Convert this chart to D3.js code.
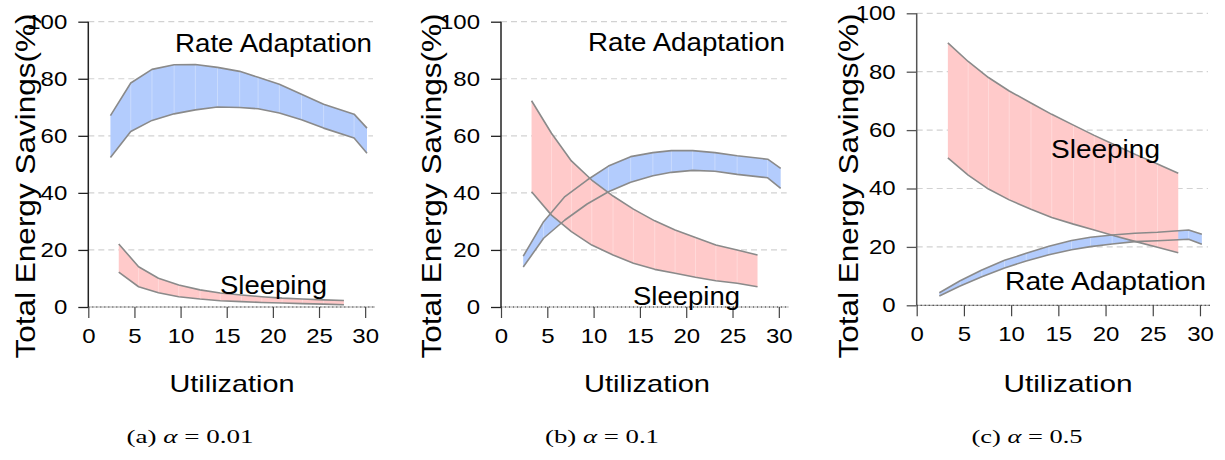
<!DOCTYPE html>
<html>
<head>
<meta charset="utf-8">
<script src="https://cdn.jsdelivr.net/npm/d3@7"></script>
<style>
  html, body { margin: 0; padding: 0; background: #fff; }
  svg { display: block; }
  text { font-family: "Liberation Sans", Arial, sans-serif; fill: #000; }
  .cap { font-family: "Liberation Serif", "Times New Roman", serif; }
</style>
</head>
<body>
<svg id="chart" width="1225" height="460"></svg>
<script>
// ---------------- data ----------------
const rateX  = [2.4, 4.6, 6.9, 9.3, 11.6, 14.0, 16.4, 18.4, 20.7, 23.1, 25.5, 28.8, 30.2];
const sleepX = [3.3, 5.45, 7.6, 9.8, 12.1, 14.3, 16.6, 18.8, 21.0, 23.2, 25.5, 27.7];

// (a) alpha = 0.01
const rateUpperA  = [67.1, 78.5, 83.3, 84.9, 85.0, 84.0, 82.6, 80.5, 78.1, 74.6, 71.1, 67.6, 62.7];
const rateLowerA  = [52.4, 61.5, 65.4, 67.7, 69.1, 70.1, 69.9, 69.5, 68.0, 65.6, 62.7, 59.2, 53.9];
const sleepUpperA = [22.1, 14.1, 10.1, 7.7, 6.0, 4.9, 4.2, 3.6, 3.1, 2.8, 2.5, 2.3];
const sleepLowerA = [12.2, 7.1, 5.0, 3.6, 2.8, 2.2, 1.9, 1.6, 1.4, 1.2, 1.0, 0.8];

// (b) alpha = 0.1
const rateUpperB  = [17.8, 29.9, 38.7, 44.5, 49.4, 52.7, 54.1, 54.8, 54.8, 54.1, 53.0, 51.8, 48.6];
const rateLowerB  = [14.0, 24.1, 30.5, 36.1, 40.4, 43.7, 46.0, 47.2, 47.9, 47.6, 46.5, 45.3, 41.6];
const sleepUpperB = [72.3, 60.9, 51.2, 44.5, 38.9, 34.3, 30.2, 27.0, 24.4, 21.7, 20.0, 18.2];
const sleepLowerB = [40.4, 32.2, 26.4, 21.7, 18.2, 15.3, 13.2, 11.8, 10.4, 9.2, 8.3, 7.1];

// (c) alpha = 0.5
const rateUpperC  = [4.3, 8.4, 12.1, 15.4, 17.8, 20.2, 22.2, 23.3, 24.1, 24.7, 25.0, 25.8, 24.3];
const rateLowerC  = [3.2, 6.6, 9.8, 12.8, 15.2, 17.3, 19.0, 20.1, 21.0, 21.8, 22.1, 22.6, 20.9];
const sleepUpperC = [89.9, 83.5, 78.0, 73.4, 69.3, 65.4, 61.7, 58.2, 54.9, 51.6, 48.4, 45.2];
const sleepLowerC = [50.5, 44.6, 39.8, 36.1, 32.9, 30.1, 27.8, 25.8, 23.7, 21.8, 19.9, 18.0];

const xTicks = [0, 5, 10, 15, 20, 25, 30];
const yTicks = [0, 20, 40, 60, 80, 100];
const xDomain = [0, 30.85];
const yDomain = [0, 100];

const yTitle = "Total Energy Savings(%)";
const xTitle = "Utilization";
const rateLabel = "Rate Adaptation";
const sleepLabel = "Sleeping";
const captionTags = ["(a)", "(b)", "(c)"];
const alphaValues = ["0.01", "0.1", "0.5"];

// ---------------- layout ----------------
const panels = [
  { x0: 88.3, x1: 373, yT: 21.7, yB: 307, axisColor: "#222",
    rate: [rateUpperA, rateLowerA], sleep: [sleepUpperA, sleepLowerA],
    titleX: 35, titleY: 186, xTitleX: 232, xTitleW: 125, capX: 190, capW: 127,
    rateLab: { x: 175, y: 52, w: 197 }, sleepLab: { x: 220, y: 294, w: 107 } },
  { x0: 501, x1: 786.7, yT: 21.7, yB: 307, axisColor: "#222",
    rate: [rateUpperB, rateLowerB], sleep: [sleepUpperB, sleepLowerB],
    titleX: 441, titleY: 186, xTitleX: 647, xTitleW: 126, capX: 602, capW: 114,
    rateLab: { x: 588, y: 51, w: 197 }, sleepLab: { x: 633, y: 305, w: 107 } },
  { x0: 916.7, x1: 1208, yT: 13.3, yB: 305.3, axisColor: "#555",
    rate: [rateUpperC, rateLowerC], sleep: [sleepUpperC, sleepLowerC],
    titleX: 858, titleY: 186, xTitleX: 1068, xTitleW: 129, capX: 1027, capW: 111,
    rateLab: { x: 1005, y: 290, w: 201 }, sleepLab: { x: 1051, y: 158, w: 109 } }
];

const BLUE = "#b3ccfd";
const RED = "#ffcaca";
const EDGE = "#8a8a8a";
const HSTRETCH = 1.2;

const svg = d3.select("#chart");

panels.forEach((p, i) => {
  const x = d3.scaleLinear().domain(xDomain).range([p.x0, p.x1]);
  const y = d3.scaleLinear().domain(yDomain).range([p.yB, p.yT]);
  const g = svg.append("g");

  // grid lines
  g.selectAll(".grid").data(yTicks.filter(d => d > 0)).enter().append("line")
    .attr("x1", p.x0).attr("x2", p.x1)
    .attr("y1", d => y(d)).attr("y2", d => y(d))
    .attr("stroke", "#d2d2d2").attr("stroke-width", 1.2)
    .attr("stroke-dasharray", "6,4");

  // bands
  const band = (xs, up, lo) => xs.map((xv, k) => ({ x: xv, u: up[k], l: lo[k] }));
  const rateData = band(rateX, p.rate[0], p.rate[1]);
  const sleepData = band(sleepX, p.sleep[0], p.sleep[1]);
  const area = d3.area().x(d => x(d.x)).y0(d => y(d.l)).y1(d => y(d.u));
  const lineU = d3.line().x(d => x(d.x)).y(d => y(d.u));
  const lineL = d3.line().x(d => x(d.x)).y(d => y(d.l));

  [[rateData, BLUE], [sleepData, RED]].forEach(([data, col]) => {
    g.append("path").datum(data).attr("d", area).attr("fill", col).attr("stroke", "none");
    g.selectAll(null).data(data.slice(1, -1)).enter().append("line")
      .attr("x1", d => x(d.x)).attr("x2", d => x(d.x))
      .attr("y1", d => y(d.u)).attr("y2", d => y(d.l))
      .attr("stroke", "#ffffff").attr("stroke-opacity", 0.3).attr("stroke-width", 1);
  });
  [rateData, sleepData].forEach(data => {
    [lineU, lineL].forEach(ln => {
      g.append("path").datum(data).attr("d", ln)
        .attr("fill", "none").attr("stroke", EDGE).attr("stroke-width", 1.6)
        .attr("stroke-linejoin", "round");
    });
  });

  // x axis baseline (dotted)
  g.append("line").attr("x1", p.x0).attr("x2", p.x1 + 2)
    .attr("y1", y(0)).attr("y2", y(0))
    .attr("stroke", "#aaa").attr("stroke-width", 1.2);
  g.append("line").attr("x1", p.x0).attr("x2", p.x1 + 2)
    .attr("y1", y(0)).attr("y2", y(0))
    .attr("stroke", "#333").attr("stroke-width", 1.2).attr("stroke-dasharray", "1,3");

  // x ticks
  const xAxis = d3.axisBottom(x).tickValues(xTicks).tickSize(11).tickPadding(11).tickFormat(d3.format("d"));
  const xa = g.append("g").attr("transform", `translate(0,${y(0)})`).call(xAxis);
  xa.select(".domain").remove();
  xa.selectAll(".tick line").attr("stroke", "#444").attr("stroke-width", 1.2);
  xa.selectAll(".tick text").attr("font-size", 20).attr("font-family", "Liberation Sans, Arial, sans-serif")
    .attr("fill", "#000").attr("transform", `scale(${HSTRETCH},1)`);

  // y axis
  const yAxis = d3.axisLeft(y).tickValues(yTicks).tickSize(10).tickPadding(7.5).tickFormat(d3.format("d"));
  const ya = g.append("g").attr("transform", `translate(${p.x0},0)`).call(yAxis);
  ya.select(".domain").attr("stroke", p.axisColor).attr("stroke-width", 1.5).attr("d", `M0,${y(0)}V${y(100)}`);
  ya.selectAll(".tick line").attr("stroke", p.axisColor).attr("stroke-width", 1.3);
  ya.selectAll(".tick text").attr("font-size", 20).attr("font-family", "Liberation Sans, Arial, sans-serif")
    .attr("fill", "#000").attr("transform", `scale(${HSTRETCH},1)`);

  // y title
  g.append("text").attr("transform", `translate(${p.titleX},${p.titleY}) rotate(-90)`)
    .attr("text-anchor", "middle").attr("font-size", 28)
    .attr("textLength", 345).attr("lengthAdjust", "spacingAndGlyphs").text(yTitle);

  // x title
  g.append("text").attr("x", p.xTitleX).attr("y", 392).attr("text-anchor", "middle")
    .attr("font-size", 24).attr("textLength", p.xTitleW).attr("lengthAdjust", "spacingAndGlyphs").text(xTitle);

  // band labels
  g.append("text").attr("x", p.rateLab.x).attr("y", p.rateLab.y)
    .attr("font-size", 25).attr("textLength", p.rateLab.w).attr("lengthAdjust", "spacingAndGlyphs").text(rateLabel);
  g.append("text").attr("x", p.sleepLab.x).attr("y", p.sleepLab.y)
    .attr("font-size", 25).attr("textLength", p.sleepLab.w).attr("lengthAdjust", "spacingAndGlyphs").text(sleepLabel);

  // caption
  const cap = g.append("text").attr("class", "cap").attr("x", p.capX).attr("y", 443)
    .attr("text-anchor", "middle").attr("font-size", 18)
    .attr("textLength", p.capW).attr("lengthAdjust", "spacingAndGlyphs");
  cap.append("tspan").text(captionTags[i] + " ");
  cap.append("tspan").attr("font-style", "italic").text("α");
  cap.append("tspan").text(" = " + alphaValues[i]);
});
</script>
</body>
</html>
